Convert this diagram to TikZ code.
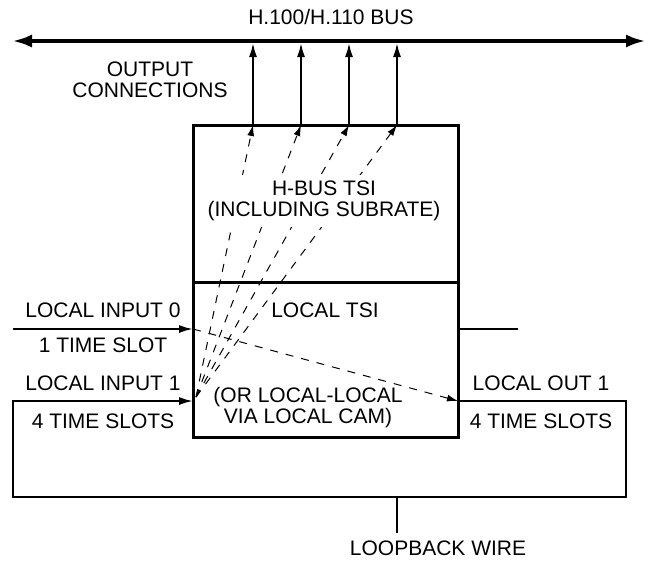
\documentclass[tikz,border=0pt]{standalone}
\usepackage{fontspec}
\setmainfont{Liberation Sans}
\usetikzlibrary{arrows.meta,positioning,calc}
\tikzset{
  lbl/.style={font=\fontsize{21}{21}\selectfont,inner sep=1pt,align=center},
  tsi/.style={draw,line width=3pt,minimum width=265pt,minimum height=157pt,inner sep=0pt},
  bus/.style={{Latex[length=20pt,width=13pt]}-{Latex[length=20pt,width=13pt]},line width=4pt},
  a/.style={-{Latex[length=14pt,width=8pt]},line width=2pt},
  da/.style={-{Latex[length=11pt,width=7pt]},line width=1pt,dash pattern=on 8pt off 8pt},
  wire/.style={line width=2pt},
}

\begin{document}
\begin{tikzpicture}[x=1pt,y=-1pt]
\useasboundingbox (0,0) rectangle (658,560);
% bus
\coordinate (busL) at (12,41);
\coordinate (busR) at (646,41);
\draw[bus] (busL) -- (busR);
\node[lbl] (busname) at (331,17) {H.100/H.110 BUS};
\node[lbl] (outcon) at (150,80) {OUTPUT\\CONNECTIONS};
% TSI blocks
\node[tsi] (hbus) at (325.5,203.5) {};
\node[tsi,minimum height=155pt] (ltsi) at (325.5,359.5) {};
% local ports
\coordinate (in0) at (13,329);
\coordinate (li0) at (193,329);
\coordinate (li1) at (193,401);
\coordinate (lo1) at (458,401);
\coordinate (stub) at (518,329);
\coordinate (fan) at (196,397);
% output connections
\foreach \i/\x in {1/253,2/301,3/349,4/397}{
  \coordinate (o\i) at (\x,125);
  \coordinate (b\i) at (\x,43);
  \draw[a] (o\i) -- (b\i);
  \draw[da] (fan) -- (o\i);
}
\draw[da] (li0) -- (lo1);
% inputs, loopback
\draw[a] (in0) -- (li0);
\draw[wire] (ltsi.east |- li0) -- (stub);
\coordinate (c1) at (626,401);
\coordinate (c2) at (626,497);
\coordinate (c3) at (13,497);
\coordinate (c4) at (13,401);
\draw[a] (lo1) -- (c1) -- (c2) -- (c3) -- (c4) -- (li1);
\coordinate (lw) at (397,497);
\coordinate (lwend) at (397,533);
\draw[wire] (lw) -- (lwend);
% texts
\node[lbl,fill=white,inner ysep=6pt] (hname) at (324,201) {H-BUS TSI\\(INCLUDING SUBRATE)};
\node[lbl,fill=white] (lname) at (325,310) {LOCAL TSI};
\node[lbl] (lcam) at (308,408) {(OR LOCAL-LOCAL\\VIA LOCAL CAM)};
\node[lbl] (t0) at (103,310) {LOCAL INPUT 0};
\node[lbl] (t1) at (103,345) {1 TIME SLOT};
\node[lbl] (t2) at (103,383) {LOCAL INPUT 1};
\node[lbl] (t3) at (103,421) {4 TIME SLOTS};
\node[lbl] (t4) at (541,383) {LOCAL OUT 1};
\node[lbl] (t5) at (541,421) {4 TIME SLOTS};
\node[lbl] (lwname) at (438,548) {LOOPBACK WIRE};
\end{tikzpicture}
\end{document}
